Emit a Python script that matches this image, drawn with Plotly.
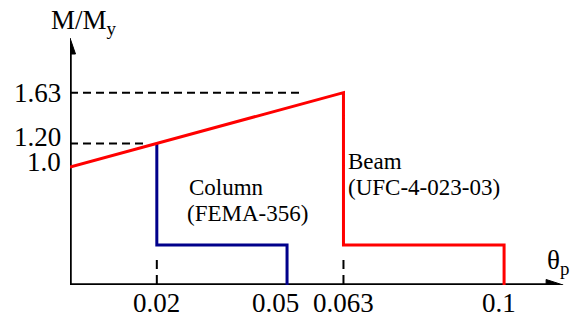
import plotly.graph_objects as go

# Rotation values (theta_p) and normalized moments (M/My)
theta_column = [0.02, 0.02, 0.05, 0.05]
moment_column = [1.20, 0.34, 0.34, 0.0]

theta_beam = [0.0, 0.063, 0.063, 0.1, 0.1]
moment_beam = [1.0, 1.63, 0.34, 0.34, 0.0]

x_ticks = [0.02, 0.05, 0.063, 0.1]
x_tick_labels = ["0.02", "0.05", "0.063", "0.1"]
y_ticks = [1.0, 1.20, 1.63]
y_tick_labels = ["1.0", "1.20", "1.63"]

FONT = "Liberation Serif"
X_MAX = 0.1168   # right edge of the plotting area
Y_MAX = 2.093    # top edge of the plotting area
X_TIP = 0.1136   # tip of the horizontal axis arrow

W, H = 577, 322
ML, MR, MT, MB = 70, 0, 38, 37
PW, PH = W - ML - MR, H - MT - MB
DX = X_MAX / PW   # data units per pixel, horizontal
DY = Y_MAX / PH   # data units per pixel, vertical

fig = go.Figure()


def add_line(xs, ys, color="black", width=3.5, dash=None):
    fig.add_trace(go.Scatter(x=xs, y=ys, mode="lines", cliponaxis=False,
                             line=dict(color=color, width=width, dash=dash),
                             hoverinfo="skip"))


def add_head(tip_x, tip_y, dirx, diry, length=17, half=5.5):
    """Filled arrowhead pointing along (dirx, diry)."""
    bx, by = tip_x - dirx * length * DX, tip_y - diry * length * DY
    nx, ny = -diry, dirx
    xs = [tip_x, bx + nx * half * DX, bx - nx * half * DX, tip_x]
    ys = [tip_y, by + ny * half * DY, by - ny * half * DY, tip_y]
    fig.add_trace(go.Scatter(x=xs, y=ys, mode="lines", fill="toself",
                             fillcolor="black", line=dict(color="black", width=1),
                             cliponaxis=False, hoverinfo="skip"))


# axes with arrowheads
add_line([0, X_TIP - 12 * DX], [0, 0])
add_line([0, 0], [-1.7 * DY, Y_MAX - 12 * DY])
add_head(X_TIP, 0, 1, 0)
add_head(0, Y_MAX, 0, 1, length=16)

# dashed guides from the axes to the yield/peak points
for th, m in [(0.02, 1.20), (0.063, 1.63)]:
    add_line([0, th * 0.85], [m, m], width=2, dash="8px,5px")
    add_line([th, th], [0, moment_beam[2] * 0.62], width=2, dash="10px,6px")

add_line(theta_column, moment_column, color="#00008B", width=3)
add_line(theta_beam, moment_beam, color="#FF0000", width=3)

tick_font = dict(family=FONT, size=27, color="black")
label_font = dict(family=FONT, size=23, color="black")
x_label_shift = [0, -12, 0, -5]
y_label_shift = [5, 6, 0]

annotations = []
for v, t, s in zip(x_ticks, x_tick_labels, x_label_shift):
    annotations.append(dict(x=v, y=0, xref="x", yref="y", text=t, showarrow=False,
                            xanchor="center", yanchor="middle", xshift=s, yshift=-18,
                            font=tick_font))
for v, t, s in zip(y_ticks, y_tick_labels, y_label_shift):
    annotations.append(dict(x=0, y=v, xref="x", yref="y", text=t, showarrow=False,
                            xanchor="right", yanchor="middle", xshift=-7, yshift=s,
                            font=tick_font))


# texts placed by pixel position, converted to paper coordinates
def px(xp, yp):
    return (xp - ML) / PW, (H - MB - yp) / PH


for text, (xp, yp), anchor, font in [
    ("M/M<sub>y</sub>", (84, 22), "center", dict(family=FONT, size=27, color="black")),
    ("θ<sub>p</sub>", (558, 262), "center", dict(family=FONT, size=27, color="black")),
    ("Column", (187, 187), "left", label_font),
    ("(FEMA-356)", (185, 213), "left", label_font),
    ("Beam", (346, 161), "left", label_font),
    ("(UFC-4-023-03)", (346, 187), "left", label_font),
]:
    xx, yy = px(xp, yp)
    annotations.append(dict(x=xx, y=yy, xref="paper", yref="paper", text=text,
                            showarrow=False, xanchor=anchor, yanchor="middle",
                            font=font))

fig.update_layout(
    width=W, height=H,
    margin=dict(l=ML, r=MR, t=MT, b=MB),
    paper_bgcolor="white", plot_bgcolor="white",
    showlegend=False,
    annotations=annotations,
    xaxis=dict(range=[0, X_MAX], visible=False),
    yaxis=dict(range=[0, Y_MAX], visible=False),
)

fig.write_html("out.html")
